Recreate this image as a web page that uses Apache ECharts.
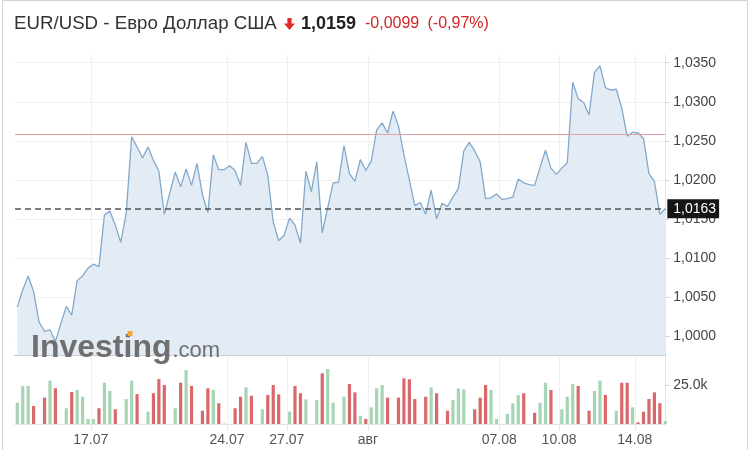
<!DOCTYPE html>
<html><head><meta charset="utf-8">
<script src="https://cdn.jsdelivr.net/npm/echarts@6/dist/echarts.min.js"></script>
<style>html,body{margin:0;padding:0;background:#fff}#c{width:750px;height:450px}</style>
</head><body><div id="c"></div>
<script>
// ---- data ----
const prices = [
  1.0037, 1.0059, 1.0077, 1.0057, 1.0018, 1.0006, 1.0008, 0.9993, 1.0016, 1.0038,
  1.0027, 1.0071, 1.0077, 1.0087, 1.0092, 1.0089, 1.0155, 1.0160, 1.0142, 1.0120,
  1.0157, 1.0255, 1.0242, 1.0228, 1.0242, 1.0225, 1.0211, 1.0156, 1.0183, 1.0210,
  1.0191, 1.0214, 1.0193, 1.0221, 1.0181, 1.0158, 1.0232, 1.0213, 1.0213, 1.0218,
  1.0212, 1.0193, 1.0248, 1.0221, 1.0221, 1.0230, 1.0206, 1.0146, 1.0122, 1.0129,
  1.0151, 1.0142, 1.0119, 1.0211, 1.0185, 1.0223, 1.0132, 1.0164, 1.0196, 1.0197,
  1.0244, 1.0208, 1.0198, 1.0226, 1.0212, 1.0224, 1.0264, 1.0273, 1.0260, 1.0288,
  1.0269, 1.0232, 1.0200, 1.0167, 1.0171, 1.0156, 1.0187, 1.0150, 1.0170, 1.0166,
  1.0178, 1.0189, 1.0237, 1.0248, 1.0237, 1.0223, 1.0176, 1.0177, 1.0182, 1.0175,
  1.0176, 1.0178, 1.0201, 1.0196, 1.0194, 1.0193, 1.0216, 1.0238, 1.0215, 1.0207,
  1.0215, 1.0222, 1.0325, 1.0304, 1.0299, 1.0283, 1.0338, 1.0346, 1.0318, 1.0315,
  1.0316, 1.0292, 1.0256, 1.0261, 1.0260, 1.0253, 1.0208, 1.0198, 1.0156, 1.0163
];
const volumes = [
  13700, 24400, 24400, 11500, 0, 16900, 27800, 22900, 0, 10100,
  20500, 21800, 17500, 3200, 3200, 10100, 26500, 21200, 9400, 0,
  16000, 27800, 19200, 0, 7900, 19700, 28800, 25000, 0, 10100,
  26500, 34600, 24400, 0, 8500, 22900, 21800, 13300, 300, 0,
  10100, 17500, 23500, 18100, 0, 9400, 18600, 25000, 19000, 0,
  7900, 24400, 19700, 15800, 0, 15400, 32500, 35300, 13700, 0,
  17500, 25600, 20300, 5300, 3200, 10700, 22900, 25000, 16900, 0,
  16900, 29300, 28700, 16000, 0, 17500, 23500, 19700, 0, 8500,
  15400, 22900, 22200, 0, 9400, 16900, 25000, 21800, 3200, 0,
  6400, 13300, 18600, 19700, 0, 7200, 13700, 26500, 21800, 0,
  9400, 17500, 25600, 24400, 0, 8500, 21200, 27800, 18600, 0,
  8500, 26500, 26500, 10700, 1100, 7900, 16000, 20300, 13300, 1900
];
// 1 = up (green), -1 = down (red)
const volumeDirection = [
  1, 1, 1,-1, 1,-1, 1,-1, 1, 1,
 -1, 1, 1, 1, 1,-1, 1, 1,-1, 1,
  1, 1,-1, 1, 1,-1,-1,-1, 1, 1,
 -1, 1,-1, 1,-1,-1, 1,-1, 1, 1,
 -1,-1, 1,-1, 1, 1,-1,-1,-1, 1,
  1,-1,-1, 1, 1, 1,-1, 1, 1, 1,
  1,-1,-1, 1,-1, 1, 1, 1,-1, 1,
 -1,-1,-1,-1, 1,-1, 1,-1, 1,-1,
  1, 1, 1, 1,-1,-1,-1, 1, 1, 1,
  1, 1, 1,-1, 1,-1, 1, 1,-1, 1,
  1, 1, 1,-1, 1,-1, 1, 1,-1, 1,
  1,-1,-1, 1,-1,-1,-1,-1,-1, 1
];
const priceTicks = [1.0000, 1.0050, 1.0100, 1.0150, 1.0200, 1.0250, 1.0300, 1.0350];
const volumeTicks = [25000];
const dateLabels = ['17.07', '24.07', '27.07', 'авг', '07.08', '10.08', '14.08'];
const datePositions = [13.5, 38.5, 49.5, 64.4, 88.5, 99.5, 113.4];
const prevClose = 1.0258;
const lastPrice = prices[prices.length - 1];
const titleMain = 'EUR/USD - Евро Доллар США';
const titlePrice = '1,0159';
const titleChange = '-0,0099';
const titleChangePct = '(-0,97%)';

// ---- chart ----
const FF = '"Liberation Sans", Arial, Helvetica, sans-serif';
const fmtPrice = v => v.toFixed(4).replace('.', ',');
const chart = echarts.init(document.getElementById('c'), null, { renderer: 'canvas' });
const gridLine = '#eef1f4';
chart.setOption({
  animation: false,
  textStyle: { fontFamily: FF },
  grid: [
    { left: 15, right: 84.7, top: 54.9, bottom: 94.4 },
    { left: 15, right: 84.7, top: 356, bottom: 26 }
  ],
  xAxis: [
    { type: 'value', gridIndex: 0, min: -0.42, max: 119,
      axisLine: { show: true, onZero: false, lineStyle: { color: '#b3b3b3', width: 1 } },
      axisTick: { show: false, customValues: datePositions },
      axisLabel: { show: false },
      splitLine: { show: true, lineStyle: { color: gridLine } } },
    { type: 'value', gridIndex: 1, min: -0.42, max: 119,
      axisLine: { show: true, onZero: false, lineStyle: { color: '#e3e3e3' } },
      axisTick: { show: true, length: 6, customValues: datePositions, lineStyle: { color: '#e3e3e3' } },
      axisLabel: { show: true, customValues: datePositions, color: '#555', fontSize: 14, margin: 9,
        formatter: v => { const k = datePositions.findIndex(p => Math.abs(p - v) < 1e-6); return k >= 0 ? dateLabels[k] : ''; } },
      splitLine: { show: true, lineStyle: { color: gridLine } } }
  ],
  yAxis: [
    { type: 'value', gridIndex: 0, position: 'right', min: 0.9975, max: 1.036,
      axisLine: { show: true, onZero: false, lineStyle: { color: '#e6e6e6' } },
      axisTick: { show: true, length: 4, customValues: priceTicks, lineStyle: { color: '#cfcfcf' } },
      axisLabel: { show: true, customValues: priceTicks, color: '#444', fontSize: 14, margin: 8, formatter: fmtPrice },
      splitLine: { show: true, lineStyle: { color: '#f0f0f0' } } },
    { type: 'value', gridIndex: 1, position: 'right', min: 0, max: 43600,
      axisLine: { show: true, onZero: false, lineStyle: { color: '#e6e6e6' } },
      axisTick: { show: true, length: 4, customValues: volumeTicks, lineStyle: { color: '#cfcfcf' } },
      axisLabel: { show: true, customValues: volumeTicks, color: '#444', fontSize: 14, margin: 8,
        formatter: v => (v / 1000).toFixed(1) + 'k' },
      splitLine: { show: false } }
  ],
  series: [
    { type: 'line', xAxisIndex: 0, yAxisIndex: 0, symbol: 'none', z: 2,
      data: prices.map((v, i) => [i, v]),
      lineStyle: { color: '#82a9cc', width: 1.3 },
      areaStyle: { color: '#e3ecf5', opacity: 1, origin: 'start' },
      markLine: { silent: true, symbol: ['none', 'none'], animation: false, precision: 5,
        data: [
          { yAxis: prevClose, lineStyle: { color: '#e3a2a2', width: 1, type: 'solid' }, label: { show: false } },
          { yAxis: lastPrice, lineStyle: { color: '#555', width: 1.5, type: [6, 4] },
            label: { show: true, position: 'end', distance: 2, formatter: () => fmtPrice(lastPrice),
              color: '#fff', backgroundColor: '#151515', padding: [3, 3, 2, 6], fontSize: 14, fontFamily: FF } }
        ] } },
    { type: 'bar', xAxisIndex: 1, yAxisIndex: 1, barWidth: 3.2,
      data: volumes.map((v, i) => ({ value: [i, v], itemStyle: { color: volumeDirection[i] > 0 ? '#a6d5b3' : '#d9686b' } })) }
  ],
  graphic: [
    { type: 'rect', silent: true, z: 0, shape: { x: 2.5, y: 0.5, width: 745, height: 480 }, style: { fill: 'none', stroke: '#d3d3d3', lineWidth: 1 } },
    { type: 'text', x: 14, y: 24, z: 10, style: { text: titleMain, font: '18.7px ' + FF, fill: '#333', verticalAlign: 'middle' } },
    { type: 'polygon', z: 10, shape: { points: [[287.4, 18], [291.6, 18], [291.6, 23.5], [295, 23.5], [289.5, 30], [284, 23.5], [287.4, 23.5]] }, style: { fill: '#e02b2b' } },
    { type: 'text', x: 301, y: 24, z: 10, style: { text: titlePrice, font: 'bold 18px ' + FF, fill: '#222', verticalAlign: 'middle' } },
    { type: 'text', x: 365, y: 24, z: 10, style: { text: titleChange, font: '16px ' + FF, fill: '#d12525', verticalAlign: 'middle' } },
    { type: 'text', x: 427.5, y: 24, z: 10, style: { text: titleChangePct, font: '16px ' + FF, fill: '#d12525', verticalAlign: 'middle' } },
    { type: 'text', x: 31, y: 348, z: 20, silent: true, style: { text: 'Investing', font: 'bold 32px ' + FF, fill: '#6f6f6f', verticalAlign: 'middle' } },
    { type: 'text', x: 172.5, y: 351, z: 20, silent: true, style: { text: '.com', font: '22px ' + FF, fill: '#6f6f6f', verticalAlign: 'middle' } },
    { type: 'rect', z: 21, silent: true, shape: { x: 127.5, y: 331, width: 5, height: 5 }, style: { fill: '#f2a93b' } }
  ]
});
</script>
</body></html>
